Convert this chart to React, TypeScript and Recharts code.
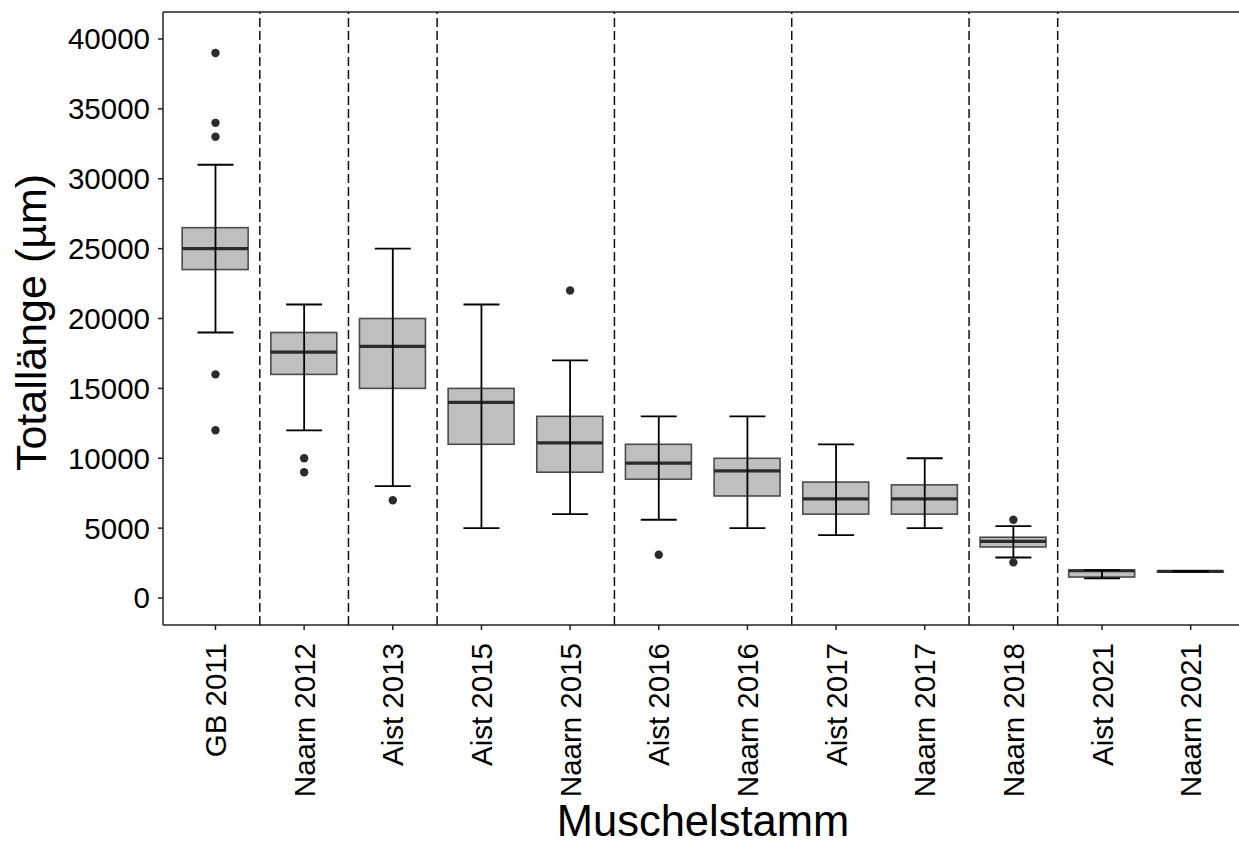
import {
  Bar,
  ComposedChart,
  ErrorBar,
  ReferenceLine,
  Scatter,
  XAxis,
  YAxis,
} from "recharts";

// Muschelstämme (one box per strain)
const strains = [
  "GB 2011",
  "Naarn 2012",
  "Aist 2013",
  "Aist 2015",
  "Naarn 2015",
  "Aist 2016",
  "Naarn 2016",
  "Aist 2017",
  "Naarn 2017",
  "Naarn 2018",
  "Aist 2021",
  "Naarn 2021",
];

// box statistics (µm)
const whiskerLow = [19000, 12000, 8000, 5000, 6000, 5600, 5000, 4500, 5000, 2900, 1400, 1900];
const quartile1 = [23500, 16000, 15000, 11000, 9000, 8500, 7300, 6000, 6000, 3650, 1500, 1880];
const medians = [25000, 17600, 18000, 14000, 11100, 9650, 9100, 7100, 7100, 4050, 1950, 1900];
const quartile3 = [26500, 19000, 20000, 15000, 13000, 11000, 10000, 8300, 8100, 4350, 2000, 1920];
const whiskerHigh = [31000, 21000, 25000, 21000, 17000, 13000, 13000, 11000, 10000, 5150, 2000, 1900];

// outliers: strain index (1-based) and value
const outlierStrain = [1, 1, 1, 1, 1, 2, 2, 3, 5, 6, 10, 10];
const outlierValue = [39000, 34000, 33000, 16000, 12000, 10000, 9000, 7000, 22000, 3100, 5600, 2550];

// dashed separators between groups
const separators = [1.5, 2.5, 3.5, 5.5, 7.5, 9.5, 10.5];

const yTicks = [0, 5000, 10000, 15000, 20000, 25000, 30000, 35000, 40000];
const yDomain: [number, number] = [-1930, 41930];

const rows = strains.map((name, i) => ({
  x: i + 1,
  name,
  box: [quartile1[i], quartile3[i]],
  q1: quartile1[i],
  q3: quartile3[i],
  med: medians[i],
  err: [medians[i] - whiskerLow[i], whiskerHigh[i] - medians[i]],
}));

const outliers = outlierStrain.map((s, i) => ({ x: s, y: outlierValue[i] }));

const FONT = '"Liberation Sans", Arial, Helvetica, sans-serif';
const TICK_SIZE = 29.5;

function BoxShape(props: any) {
  const { x, y, width, height, payload } = props;
  const top = Math.min(y, y + height);
  const h = Math.abs(height);
  const span = payload.q3 - payload.q1;
  const medY = span > 0 ? top + ((payload.q3 - payload.med) / span) * h : top;
  return (
    <g>
      <rect
        x={x}
        y={top}
        width={width}
        height={h}
        fill="#7f7f7f"
        fillOpacity={0.5}
        stroke="#333"
        strokeOpacity={0.85}
        strokeWidth={1.6}
      />
      <line x1={x} x2={x + width} y1={medY} y2={medY} stroke="#2b2b2b" strokeWidth={3.2} />
    </g>
  );
}

function OutlierDot(props: any) {
  const { cx, cy } = props;
  return <circle cx={cx} cy={cy} r={4.2} fill="#2b2b2b" />;
}

function XTick(props: any) {
  const { x, y, payload } = props;
  return (
    <g transform={`translate(${x},${y})`}>
      <text
        transform="rotate(-90)"
        textAnchor="end"
        dy="0.36em"
        fontSize={TICK_SIZE}
        fill="#000"
        fontFamily={FONT}
      >
        {strains[payload.value - 1]}
      </text>
    </g>
  );
}

export default function App() {
  return (
    <div style={{ position: "absolute", left: 0, top: 0, background: "#fff" }}>
      <ComposedChart
        width={1239}
        height={845}
        data={rows}
        margin={{ top: 12, right: 0, bottom: 0, left: 0 }}
        style={{ fontFamily: FONT }}
      >
        <XAxis
          type="number"
          dataKey="x"
          domain={[0.408, 12.545]}
          allowDataOverflow
          ticks={strains.map((_, i) => i + 1)}
          interval={0}
          height={220}
          tickSize={5}
          tickMargin={13}
          tick={<XTick />}
          stroke="#222"
          strokeWidth={1.5}
          label={({ viewBox }: any) => (
            <text
              x={viewBox.x + viewBox.width / 2 + 2}
              y={836}
              textAnchor="middle"
              fontSize={43.5}
              fill="#000"
              fontFamily={FONT}
            >
              Muschelstamm
            </text>
          )}
        />
        <YAxis
          type="number"
          domain={yDomain}
          allowDataOverflow
          ticks={yTicks}
          interval={0}
          width={163}
          tickSize={5}
          tickMargin={8}
          stroke="#222"
          strokeWidth={1.5}
          tick={{ fontSize: TICK_SIZE, fill: "#000", fontFamily: FONT }}
          label={({ viewBox }: any) => (
            <text
              transform={`translate(46,${viewBox.y + viewBox.height / 2 + 4}) rotate(-90)`}
              textAnchor="middle"
              fontSize={43}
              fill="#000"
              fontFamily={FONT}
            >
              Totallänge (µm)
            </text>
          )}
        />
        <ReferenceLine y={yDomain[1]} stroke="#222" strokeWidth={1.5} />
        {separators.map((s) => (
          <ReferenceLine key={s} x={s} stroke="#111" strokeWidth={1.5} strokeDasharray="9 4" />
        ))}
        <Bar dataKey="box" barSize={66} shape={BoxShape} isAnimationActive={false} />
        <Scatter dataKey="med" shape={() => <g />} isAnimationActive={false}>
          <ErrorBar
            dataKey="err"
            direction="y"
            width={18}
            stroke="#000"
            strokeWidth={1.8}
            isAnimationActive={false}
          />
        </Scatter>
        <Scatter data={outliers} dataKey="y" shape={OutlierDot} isAnimationActive={false} />
      </ComposedChart>
    </div>
  );
}
